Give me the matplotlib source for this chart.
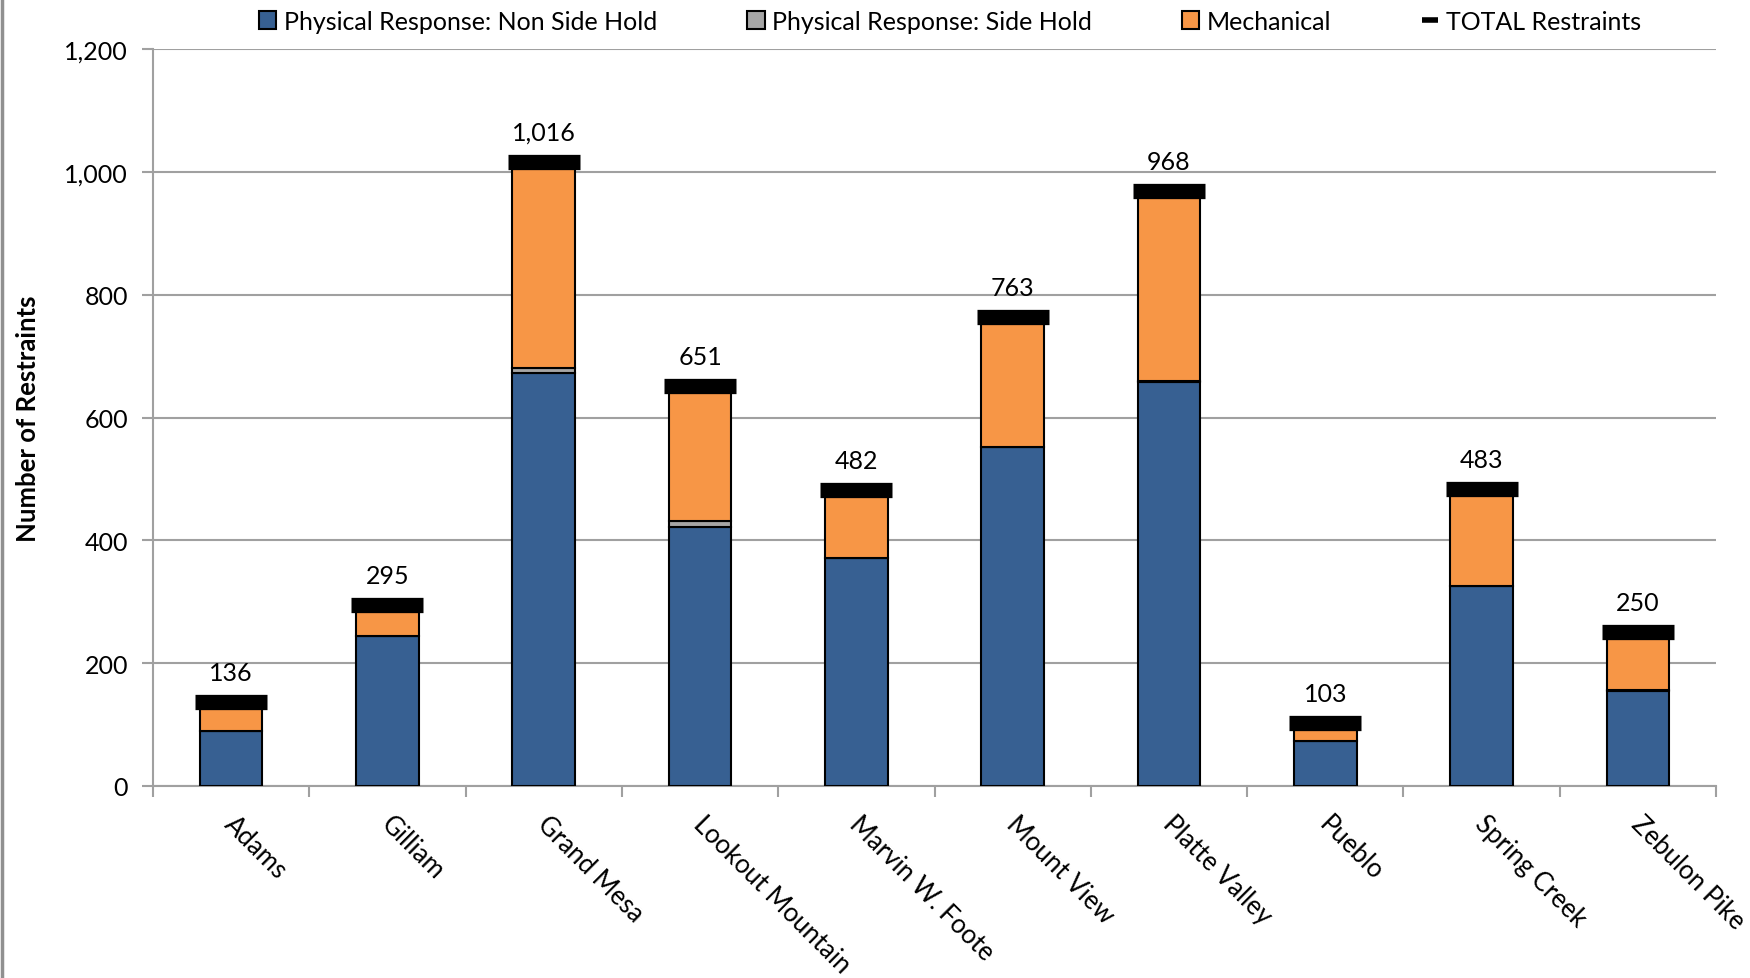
import matplotlib
matplotlib.use("Agg")
import matplotlib.pyplot as plt
from matplotlib.lines import Line2D
from matplotlib.patches import Patch
import numpy as np

categories = ["Adams", "Gilliam", "Grand Mesa", "Lookout Mountain", "Marvin W. Foote",
              "Mount View", "Platte Valley", "Pueblo", "Spring Creek", "Zebulon Pike"]
non_side_hold = [90, 245, 672, 422, 371, 552, 658, 74, 325, 155]
side_hold = [0, 0, 8, 10, 0, 0, 1, 0, 0, 1]
mechanical = [46, 50, 336, 219, 111, 211, 309, 29, 158, 94]
totals = [136, 295, 1016, 651, 482, 763, 968, 103, 483, 250]

BLUE = "#376092"
GREY = "#A6A6A6"
ORANGE = "#F79646"
GRID = "#A0A0A0"

plt.rcParams['font.family'] = ['Lato', 'DejaVu Sans']

fig = plt.figure(figsize=(17.5, 9.79), dpi=100)
ax = fig.add_axes([153/1750, 1-787/979, (1716-153)/1750, 737/979])

x = np.arange(len(categories))
w = 0.40
nsh = np.array(non_side_hold)
sh = np.array(side_hold)
mech = np.array(mechanical)

ax.bar(x, nsh, w, color=BLUE, edgecolor="black", linewidth=1.5, zorder=3)
ax.bar(x, sh, w, bottom=nsh, color=GREY, edgecolor="black", linewidth=1.5, zorder=3)
ax.bar(x, mech, w, bottom=nsh + sh, color=ORANGE, edgecolor="black", linewidth=1.5, zorder=3)
ax.plot(x, totals, linestyle="none", marker="_", markersize=52, markeredgewidth=11,
        color="black", zorder=4)

for xi, t in zip(x, totals):
    ax.annotate(f"{t:,}", (xi, t), xytext=(0, 13), textcoords="offset points",
                ha="center", va="bottom", fontsize=18, zorder=5)

ax.set_xlim(-0.5, len(categories) - 0.5)
ax.set_ylim(0, 1200)
ax.set_yticks(np.arange(0, 1201, 200))
ax.set_yticklabels([f"{v:,}" for v in range(0, 1201, 200)], fontsize=18)
ax.yaxis.grid(True, color=GRID, linewidth=1.5, zorder=0)
ax.set_axisbelow(True)

ax.set_xticks(x)
ax.set_xticklabels([])
ax.tick_params(axis="x", length=0)
ax.set_xticks(np.arange(-0.5, len(categories) + 0.5, 1), minor=True)
ax.tick_params(axis="x", which="minor", length=8, width=1.5, color=GRID, direction="out")
ax.tick_params(axis="y", length=8, width=1.5, color=GRID, direction="out", pad=10)

for xi, c in zip(x, categories):
    ax.text(xi + 0.04, -40, c, rotation=-45, rotation_mode="anchor",
            ha="left", va="top", fontsize=18.5)

for s in ["top", "right"]:
    ax.spines[s].set_visible(False)
for s in ["left", "bottom"]:
    ax.spines[s].set_color(GRID)
    ax.spines[s].set_linewidth(1.5)

ax.set_ylabel("Number of Restraints", fontsize=18.5, fontweight="bold")
ax.yaxis.set_label_coords(-0.072, 0.5)

handles = [
    Patch(facecolor=BLUE, edgecolor="black", linewidth=1.5, label="Physical Response: Non Side Hold"),
    Patch(facecolor=GREY, edgecolor="black", linewidth=1.5, label="Physical Response: Side Hold"),
    Patch(facecolor=ORANGE, edgecolor="black", linewidth=1.5, label="Mechanical"),
    Line2D([], [], linestyle="none", marker="_", markersize=12, markeredgewidth=4,
           color="black", label="TOTAL Restraints"),
]
leg = ax.legend(handles=handles, loc="lower center", bbox_to_anchor=(0.51, 1.005), ncol=4,
                frameon=False, fontsize=18, handlelength=0.7, handleheight=0.7,
                handletextpad=0.3, columnspacing=3.6, borderaxespad=0.1)

fig.add_artist(Line2D([0.001, 0.001], [0, 1], color="#909090", linewidth=2.5,
                      transform=fig.transFigure))

fig.savefig("out.png", dpi=100, facecolor="white")
